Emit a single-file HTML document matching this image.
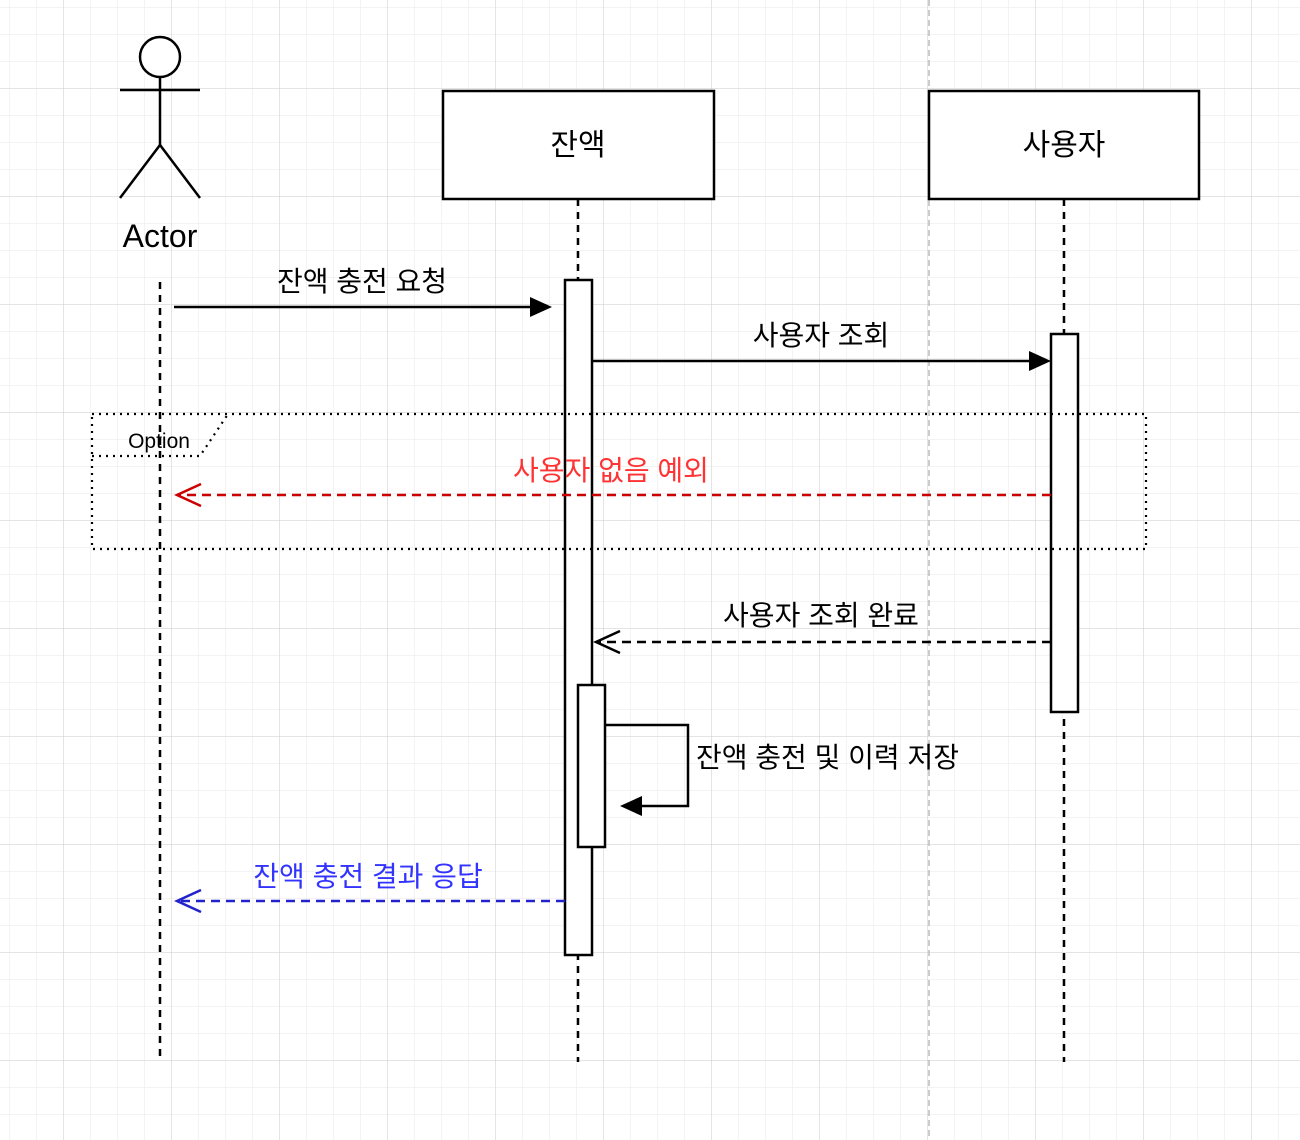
<!DOCTYPE html>
<html><head><meta charset="utf-8"><style>html,body{margin:0;padding:0;background:#fff}svg{display:block}text{font-family:"Liberation Sans","Noto Sans CJK KR",sans-serif}</style></head>
<body>
<svg width="1300" height="1140" viewBox="0 0 1300 1140" xmlns="http://www.w3.org/2000/svg">
<defs>
<pattern id="minor" x="9" y="7" width="27" height="27" patternUnits="userSpaceOnUse"><path d="M0 0H27M0 0V27" stroke="#efefef" stroke-width="1.5" fill="none"/></pattern>
<pattern id="major" x="63" y="88" width="108" height="108" patternUnits="userSpaceOnUse"><path d="M0 0H108M0 0V108" stroke="#d2d2d2" stroke-width="1" fill="none"/></pattern>
</defs>
<rect width="1300" height="1140" fill="url(#minor)"/>
<rect width="1300" height="1140" fill="url(#major)"/>
<line x1="929" y1="0" x2="929" y2="1140" stroke="#bbb" stroke-width="1.5" stroke-dasharray="6 4"/>

<!-- lifelines -->
<g stroke="#000" stroke-width="2.5" stroke-dasharray="7 6">
<line x1="160" y1="282" x2="160" y2="1062"/>
<line x1="578" y1="199" x2="578" y2="1062"/>
<line x1="1064" y1="199" x2="1064" y2="1062"/>
</g>

<!-- actor -->
<g stroke="#000" stroke-width="2.5" fill="#fff">
<circle cx="160" cy="57" r="20"/>
<line x1="160" y1="77" x2="160" y2="145"/>
<line x1="120" y1="90" x2="200" y2="90"/>
<polyline points="120,198 160,145 200,198" fill="none"/>
</g>
<text x="160" y="247" font-size="32" text-anchor="middle">Actor</text>

<!-- boxes -->
<rect x="443" y="91" width="271" height="108" fill="#fff" stroke="#000" stroke-width="2.5"/>
<text x="578" y="155" font-size="30" text-anchor="middle">잔액</text>
<rect x="929" y="91" width="270" height="108" fill="#fff" stroke="#000" stroke-width="2.5"/>
<text x="1064" y="155" font-size="30" text-anchor="middle">사용자</text>

<!-- activations -->
<rect x="565" y="280" width="27" height="675" fill="#fff" stroke="#000" stroke-width="2.5"/>
<rect x="1051" y="334" width="27" height="378" fill="#fff" stroke="#000" stroke-width="2.5"/>

<!-- frame -->
<g stroke="#000" stroke-width="2.2" stroke-dasharray="2 5" fill="none">
<rect x="92" y="414" width="1054" height="135"/>
<polyline points="92,456 200,456 228,414"/>
</g>
<text x="159" y="448" font-size="21" text-anchor="middle">Option</text>

<!-- msg1 -->
<line x1="174" y1="307" x2="532" y2="307" stroke="#000" stroke-width="2.5"/>
<polygon points="552,307 530,297 530,317" fill="#000"/>
<text x="362" y="291" font-size="28" text-anchor="middle">잔액 충전 요청</text>

<!-- msg2 -->
<line x1="592" y1="361" x2="1031" y2="361" stroke="#000" stroke-width="2.5"/>
<polygon points="1051,361 1029,351 1029,371" fill="#000"/>
<text x="821" y="345" font-size="28" text-anchor="middle">사용자 조회</text>

<!-- red -->
<line x1="1051" y1="495" x2="177" y2="495" stroke="#cc0000" stroke-width="2.5" stroke-dasharray="9 6"/>
<polyline points="201,484 177,495 201,506" fill="none" stroke="#cc0000" stroke-width="2.5"/>
<text x="611" y="480" font-size="28" text-anchor="middle" fill="#ff3333">사용자 없음 예외</text>

<!-- return -->
<line x1="1051" y1="642" x2="596" y2="642" stroke="#000" stroke-width="2.5" stroke-dasharray="9 6"/>
<polyline points="620,631 596,642 620,653" fill="none" stroke="#000" stroke-width="2.5"/>
<text x="821" y="625" font-size="28" text-anchor="middle">사용자 조회 완료</text>

<!-- self -->
<rect x="578" y="685" width="27" height="162" fill="#fff" stroke="#000" stroke-width="2.5"/>
<polyline points="605,725 688,725 688,806 640,806" fill="none" stroke="#000" stroke-width="2.5"/>
<polygon points="620,806 642,796 642,816" fill="#000"/>
<text x="696" y="767" font-size="28">잔액 충전 및 이력 저장</text>

<!-- blue -->
<line x1="565" y1="901" x2="177" y2="901" stroke="#2222cc" stroke-width="2.5" stroke-dasharray="9 6"/>
<polyline points="201,890 177,901 201,912" fill="none" stroke="#2222cc" stroke-width="2.5"/>
<text x="368" y="886" font-size="28" text-anchor="middle" fill="#3333ff">잔액 충전 결과 응답</text>
</svg>
</body></html>
